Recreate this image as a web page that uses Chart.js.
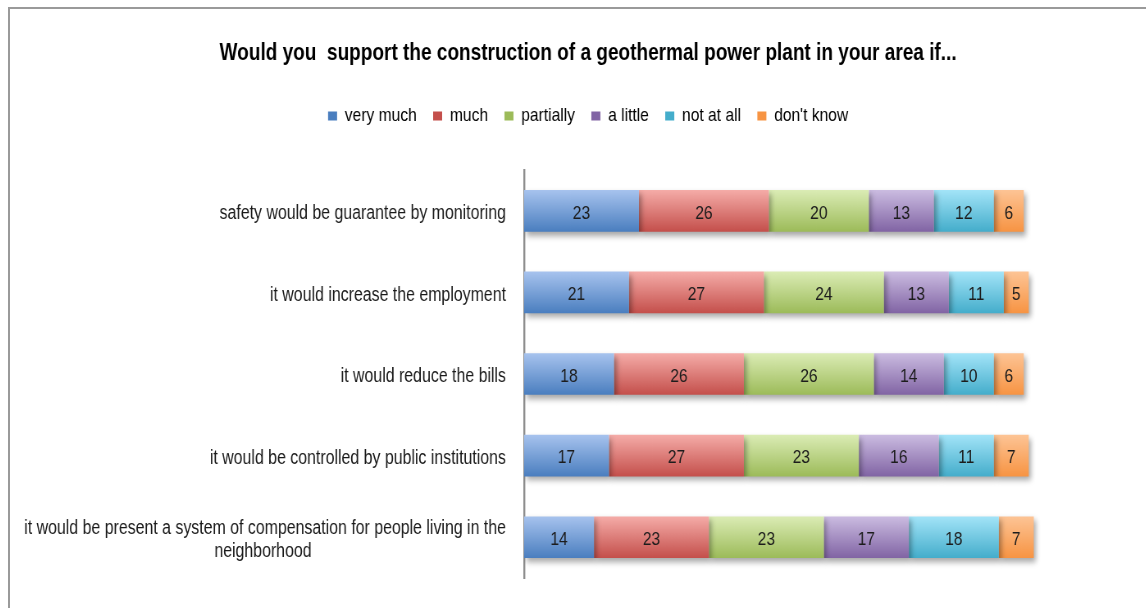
<!DOCTYPE html>
<html>
<head>
<meta charset="utf-8">
<script src="https://cdn.jsdelivr.net/npm/chart.js@4/dist/chart.umd.min.js"></script>
<style>
  html, body { margin: 0; padding: 0; background: #fff; overflow: hidden; width: 1146px; height: 608px; }
  #frame { position: absolute; left: 8px; top: 7px; width: 1200px; height: 700px;
           border-left: 2px solid #9a9a9a; border-top: 2px solid #9a9a9a; }
  /* The chart is laid out 1410px wide and squeezed horizontally,
     which gives the narrow (condensed) lettering of the original design. */
  #wrap { position: absolute; left: 10px; top: 9px; width: 1410px; height: 620px;
          transform: scaleX(0.82); transform-origin: 0 0; }
</style>
</head>
<body>
<div id="frame"></div>
<div id="wrap"><canvas id="c"></canvas></div>
<script>
// Survey statements (y categories), one entry per line of the label
const categories = [
  ['safety would be guarantee by monitoring'],
  ['it would increase the employment'],
  ['it would reduce the bills'],
  ['it would be controlled by public institutions'],
  ['it would be present a system of compensation for people living in the', 'neighborhood']
];

// Answer options
const seriesNames = ['very much', 'much', 'partially', 'a little', 'not at all', "don't know"];

// Share of respondents (%) per statement
const veryMuch  = [23, 21, 18, 17, 14];
const much      = [26, 27, 26, 27, 23];
const partially = [20, 24, 26, 23, 23];
const aLittle   = [13, 13, 14, 16, 17];
const notAtAll  = [12, 11, 10, 11, 18];
const dontKnow  = [6, 5, 6, 7, 7];

const seriesValues = [veryMuch, much, partially, aLittle, notAtAll, dontKnow];

// Light (top) and dark (bottom) shade of each answer colour
const shades = [
  ['#a7c3ee', '#4a7ebf'],
  ['#f5aca8', '#c44f4b'],
  ['#dbecb5', '#9cbb59'],
  ['#cbbce1', '#8164a4'],
  ['#a3e4f8', '#44adcb'],
  ['#fdc495', '#f79443']
];

const FONT = "'Liberation Sans', Arial, sans-serif";
const TICK_SIZE = 19.4;
const VALUE_SIZE = 19;
const BAR_SHARE = 0.51;

// Centre the second line of a wrapped label under the first one
// (Chart.js right-aligns every line of a left-axis label).
const measureCtx = document.createElement('canvas').getContext('2d');
measureCtx.font = TICK_SIZE + 'px ' + FONT;
function centeredLines(lines) {
  if (lines.length < 2) return lines[0];
  const w0 = measureCtx.measureText(lines[0]).width;
  const sp = measureCtx.measureText('\u00a0').width;
  return lines.map((line, i) => {
    if (i === 0) return line;
    const gap = (w0 - measureCtx.measureText(line).width) / 2;
    return line + '\u00a0'.repeat(Math.max(0, Math.round(gap / sp)));
  });
}
const tickLabels = categories.map(centeredLines);

function barGradient(ctx, i) {
  const chart = ctx.chart;
  const ys = chart.scales && chart.scales.y;
  if (!chart.chartArea || !ys) return shades[i][1];
  const cy = ys.getPixelForValue(ctx.dataIndex);
  const half = ys.height / categories.length * BAR_SHARE / 2;
  const g = chart.ctx.createLinearGradient(0, cy - half, 0, cy + half);
  g.addColorStop(0, shades[i][0]);
  g.addColorStop(1, shades[i][1]);
  return g;
}

// Soft drop shadow under the bars
const barShadow = {
  id: 'barShadow',
  beforeDatasetsDraw(chart) {
    const c = chart.ctx;
    c.save();
    c.shadowColor = 'rgba(0,0,0,0.35)';
    c.shadowBlur = 6;
    c.shadowOffsetX = 3;
    c.shadowOffsetY = 4;
  },
  afterDatasetsDraw(chart) {
    chart.ctx.restore();
  }
};

// Value written in the middle of each segment
const segmentValues = {
  id: 'segmentValues',
  afterDatasetsDraw(chart) {
    const c = chart.ctx;
    c.save();
    c.shadowColor = 'transparent';
    c.font = VALUE_SIZE + 'px ' + FONT;
    c.fillStyle = '#1c1c1c';
    c.textAlign = 'center';
    c.textBaseline = 'middle';
    chart.data.datasets.forEach((ds, di) => {
      chart.getDatasetMeta(di).data.forEach((bar, i) => {
        c.fillText(String(ds.data[i]), (bar.x + bar.base) / 2, bar.y + 2.5);
      });
    });
    c.restore();
  }
};

// Extra room between the legend and the bars
const legendGap = {
  id: 'legendGap',
  beforeInit(chart) {
    const legend = chart.legend;
    const fit = legend.fit;
    legend.fit = function () {
      fit.call(this);
      this.height += 34.5;
    };
  }
};

new Chart(document.getElementById('c'), {
  type: 'bar',
  data: {
    labels: tickLabels,
    datasets: seriesNames.map((name, i) => ({
      label: name,
      data: seriesValues[i],
      backgroundColor: ctx => barGradient(ctx, i),
      borderWidth: 0,
      categoryPercentage: 1,
      barPercentage: BAR_SHARE
    }))
  },
  options: {
    indexAxis: 'y',
    responsive: true,
    maintainAspectRatio: false,
    animation: false,
    layout: { padding: { top: 0, right: 0, bottom: 51, left: 0 } },
    scales: {
      x: {
        stacked: true,
        display: false,
        min: 0,
        max: 128.5
      },
      y: {
        stacked: true,
        grid: { display: false, drawTicks: false },
        border: { display: true, color: '#8e8e8e', width: 2.4 },
        ticks: {
          color: '#1a1a1a',
          padding: 22,
          labelOffset: 3,
          font: { family: FONT, size: TICK_SIZE },
          autoSkip: false
        },
        afterFit(scale) { scale.width = 626.8; }
      }
    },
    plugins: {
      title: {
        display: true,
        text: 'Would you  support the construction of a geothermal power plant in your area if...',
        color: '#000',
        font: { family: FONT, size: 23.2, weight: 'bold', lineHeight: 1.2 },
        padding: { top: 30.6, bottom: 19.1 }
      },
      legend: {
        position: 'top',
        labels: {
          color: '#1a1a1a',
          font: { family: FONT, size: VALUE_SIZE },
          boxWidth: 11,
          boxHeight: 9,
          padding: 20,
          generateLabels(chart) {
            return chart.data.datasets.map((ds, i) => ({
              text: ds.label,
              fillStyle: shades[i][1],
              strokeStyle: 'transparent',
              lineWidth: 0,
              hidden: false,
              datasetIndex: i
            }));
          }
        }
      },
      tooltip: { enabled: false }
    }
  },
  plugins: [barShadow, segmentValues, legendGap]
});
</script>
</body>
</html>
